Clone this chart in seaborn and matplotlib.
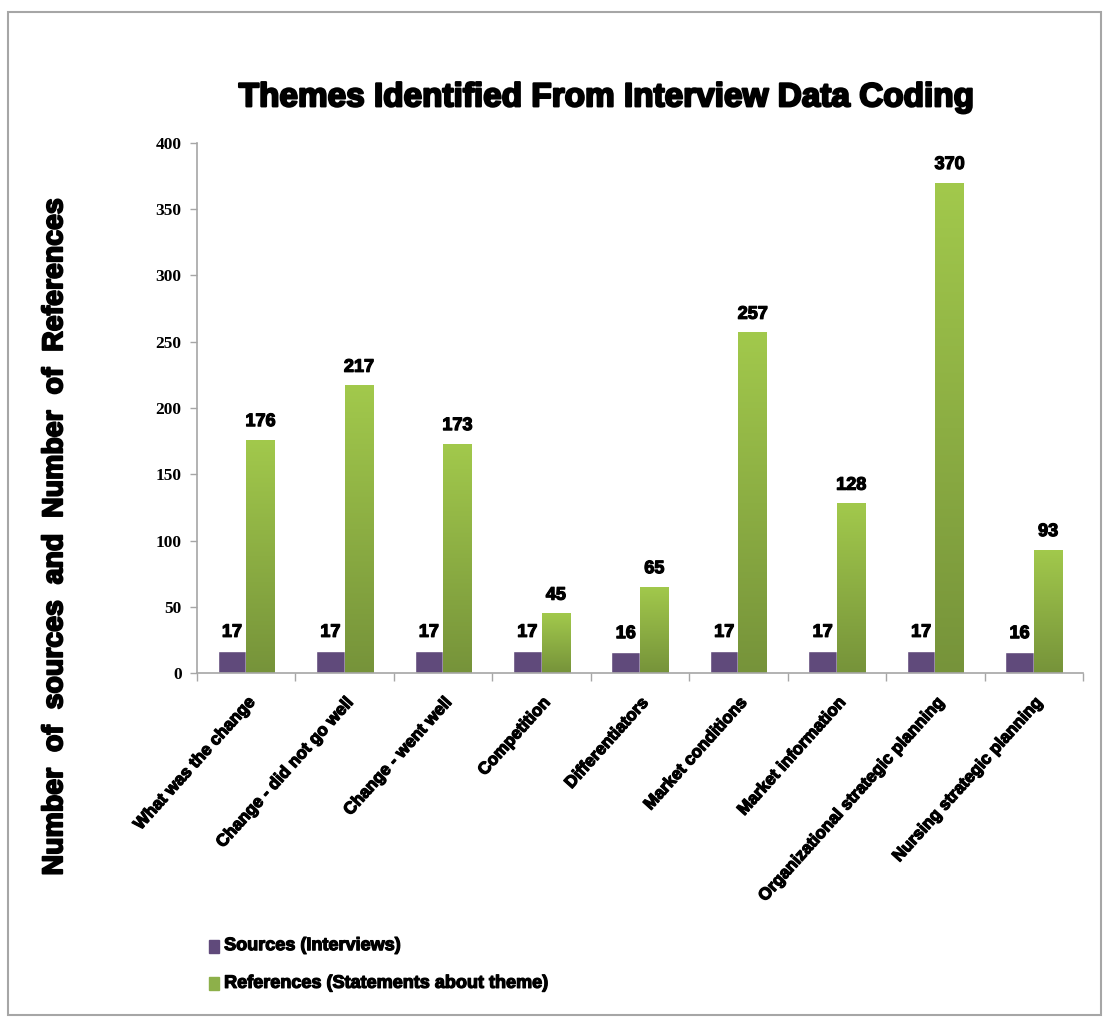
import numpy as np
import pandas as pd
import matplotlib
matplotlib.use("Agg")
import matplotlib.pyplot as plt
import matplotlib.patheffects as pe
from matplotlib.patches import Rectangle
from matplotlib.colors import LinearSegmentedColormap
import seaborn as sns

sns.set_style("white")
plt.rcParams['font.family'] = ['Liberation Sans', 'DejaVu Sans']
plt.rcParams['text.color'] = 'black'
plt.rcParams['xtick.color'] = 'black'
plt.rcParams['ytick.color'] = 'black'

themes = ["What was the change", "Change - did not go well", "Change - went well",
          "Competition", "Differentiators", "Market conditions", "Market information",
          "Organizational strategic planning", "Nursing strategic planning"]
sources = [17, 17, 17, 17, 16, 17, 17, 17, 16]
references = [176, 217, 173, 45, 65, 257, 128, 370, 93]
series_names = ["Sources (Interviews)", "References (Statements about theme)"]

df = pd.DataFrame({
    "theme": themes * 2,
    "series": [series_names[0]] * len(themes) + [series_names[1]] * len(themes),
    "value": sources + references,
})

purple = "#604a7b"
green_top = "#a2c94c"
green_bot = "#76933a"
heavy = [pe.withStroke(linewidth=0.9, foreground="black")]

fig = plt.figure(figsize=(11.04, 10.19), dpi=100)
ax = fig.add_axes([0.1784, 0.3395, 0.8026, 0.5202])

sns.barplot(data=df, x="theme", y="value", hue="series", order=themes,
            hue_order=series_names, palette=[purple, green_bot], width=0.58,
            saturation=1, ax=ax, legend=False)

# gradient fill on the green bars
grad = LinearSegmentedColormap.from_list("g", [green_bot, green_top])
for p in ax.containers[1]:
    x0, y0 = p.get_x(), p.get_y()
    w, h = p.get_width(), p.get_height()
    img = ax.imshow(np.linspace(0, 1, 256).reshape(-1, 1), cmap=grad, aspect="auto",
                    origin="lower", extent=[x0, x0 + w, y0, y0 + h], zorder=p.get_zorder() + 0.1)
    img.set_clip_path(p)

for c in ax.containers:
    ax.bar_label(c, padding=7, fontsize=13, fontweight="bold", path_effects=heavy)

ax.set_xlim(-0.5, len(themes) - 0.5)
ax.set_ylim(0, 400)
ax.set_yticks(np.arange(0, 401, 50))
ax.set_yticklabels([str(v) for v in range(0, 401, 50)], family="Liberation Serif",
                   fontweight="bold", fontsize=12.5)

ax.set_xticks(np.arange(-0.5, len(themes)), labels=[])
ax.set_xticks(np.arange(len(themes)), minor=True)
ax.set_xticklabels(themes, minor=True, rotation=48, ha="right", rotation_mode="anchor",
                   fontweight="bold", fontsize=12.2, path_effects=heavy)
ax.tick_params(axis="x", which="major", length=6, width=1, color="#a6a6a6", direction="out", bottom=True)
ax.tick_params(axis="x", which="minor", length=0, pad=16)
ax.tick_params(axis="y", length=5, width=1, color="#a6a6a6", direction="out", left=True, pad=6)

ax.set_xlabel("")
ax.set_ylabel("")
for s in ["top", "right"]:
    ax.spines[s].set_visible(False)
for s in ["left", "bottom"]:
    ax.spines[s].set_color("#a6a6a6")
    ax.spines[s].set_linewidth(1.2)

fig.text(0.55, 0.904, "Themes Identified From Interview Data Coding", ha="center", va="center",
         fontsize=24, fontweight="bold", path_effects=[pe.withStroke(linewidth=1.6, foreground="black")])
fig.text(0.05, 0.473, "Number  of  sources  and  Number  of  References", rotation=90,
         ha="center", va="center", fontsize=20.5, fontweight="bold",
         path_effects=[pe.withStroke(linewidth=1.4, foreground="black")])

# legend
fig.patches.append(Rectangle((0.189, 0.065), 0.009, 0.013, transform=fig.transFigure,
                             color=purple))
fig.patches.append(Rectangle((0.189, 0.028), 0.009, 0.013, transform=fig.transFigure,
                             color="#8db04a"))
fig.text(0.203, 0.072, series_names[0], va="center", fontsize=13, fontweight="bold", path_effects=heavy)
fig.text(0.203, 0.035, series_names[1], va="center", fontsize=13, fontweight="bold", path_effects=heavy)

# outer frame
fig.patches.append(Rectangle((0.0075, 0.004), 0.99, 0.984, transform=fig.transFigure,
                             fill=False, edgecolor="#a6a6a6", linewidth=1.5))

fig.savefig("out.png", dpi=100)
